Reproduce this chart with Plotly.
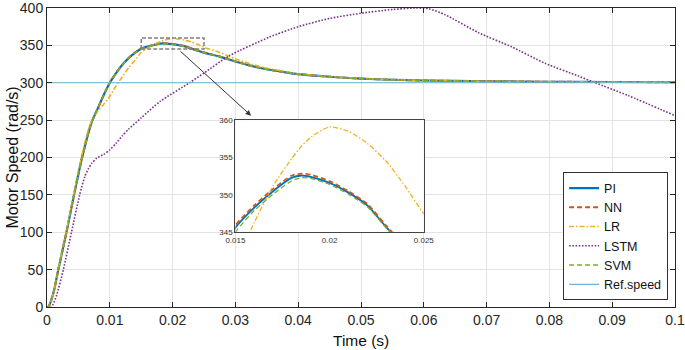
import plotly.graph_objects as go

# ---------------- data ----------------
time_s = [0, 0.0002, 0.001, 0.0018, 0.0025, 0.0031, 0.0037, 0.0043, 0.005, 0.0055,
          0.006, 0.0065, 0.0071, 0.0075, 0.008, 0.009, 0.010, 0.011, 0.012, 0.013,
          0.014, 0.015, 0.016, 0.017, 0.018, 0.0185, 0.019, 0.020, 0.021, 0.022,
          0.023, 0.024, 0.025, 0.0275, 0.030, 0.0325, 0.035, 0.0375, 0.040, 0.045,
          0.050, 0.055, 0.060, 0.070, 0.080, 0.090, 0.100]

pi_speed = [0, 0, 18, 50, 77, 100, 125, 150, 178, 197,
            214, 230, 247, 255, 264, 283, 300, 313, 324, 333,
            340, 345.6, 348.3, 350.5, 352.3, 352.6, 352.4, 351.6, 350.3, 348.6,
            345.7, 343.0, 340.3, 335.0, 328.5, 322.5, 318.0, 314.5, 311.5, 308.0,
            305.5, 304.0, 303.0, 302.0, 301.3, 301.0, 300.7]

nn_speed = [0, 0, 18, 50, 77, 100, 125, 150, 178, 197,
            214, 230, 247, 255, 264, 283, 300, 313, 324, 333,
            340, 345.9, 348.6, 350.8, 352.6, 352.85, 352.7, 351.85, 350.5, 348.8,
            345.9, 343.1, 340.4, 335.1, 328.6, 322.6, 318.0, 314.5, 311.5, 308.0,
            305.5, 304.0, 303.0, 302.0, 301.3, 301.0, 300.7]

lr_speed = [0, 0, 18, 51, 79, 102, 128, 153, 182, 201,
            219, 235, 249, 255, 261, 271, 282, 296, 308, 320,
            330, 340.5, 346.3, 351.2, 354.9, 356.5, 357.7, 359.1, 358.5, 356.9,
            354.5, 351.2, 347.5, 340.5, 332.0, 325.0, 319.5, 315.5, 312.0, 308.3,
            305.7, 304.1, 303.1, 302.0, 301.4, 301.0, 300.8]

svm_speed = [0, 0, 18, 50, 77, 100, 125, 150, 178, 197,
             214, 230, 247, 255, 264, 283, 300, 313, 324, 333,
             339.8, 345.0, 347.9, 350.1, 351.9, 352.3, 352.2, 351.4, 350.1, 348.4,
             345.6, 342.9, 340.2, 335.0, 328.5, 322.5, 318.0, 314.5, 311.5, 308.0,
             305.5, 304.0, 303.0, 302.0, 301.3, 301.0, 300.7]

lstm_time_s = [0, 0.0007, 0.0015, 0.0026, 0.0039, 0.0052, 0.006, 0.0066, 0.0071, 0.0079,
               0.009, 0.010, 0.011, 0.012, 0.013, 0.015, 0.018, 0.0227, 0.025, 0.029,
               0.0354, 0.040, 0.045, 0.050, 0.055, 0.0587, 0.0608, 0.0634, 0.0687, 0.074,
               0.0793, 0.0846, 0.0873, 0.0925, 0.100]
lstm_speed = [0, 0, 15, 50, 100, 150, 174, 185, 192, 199,
              204, 210, 219, 229, 238, 253, 275, 300, 313, 336,
              361, 375, 386, 393, 398, 400, 399, 391, 367, 348,
              326, 309, 300, 283, 256]

ref_time_s = [0, 0.1]
ref_speed = [300, 300]

x_ticks = [0, 0.01, 0.02, 0.03, 0.04, 0.05, 0.06, 0.07, 0.08, 0.09, 0.1]
x_tick_labels = ["0", "0.01", "0.02", "0.03", "0.04", "0.05", "0.06", "0.07", "0.08", "0.09", "0.1"]
y_ticks = [0, 50, 100, 150, 200, 250, 300, 350, 400]
inset_x_ticks = [0.015, 0.02, 0.025]
inset_x_labels = ["0.015", "0.02", "0.025"]
inset_y_ticks = [345, 350, 355, 360]

x_title = "Time (s)"
y_title = "Motor Speed (rad/s)"

# ---------------- styling ----------------
FONT = "Liberation Sans, Arial, sans-serif"
AX = "#262626"
GRID = "#e3e3e3"

series = [
    ("PI", time_s, pi_speed, dict(color="#0072BD", width=2.2, dash="solid")),
    ("NN", time_s, nn_speed, dict(color="#D95319", width=2, dash="5px,3px")),
    ("LR", time_s, lr_speed, dict(color="#EDB120", width=1.6, dash="5px,2px,1.5px,2px")),
    ("LSTM", lstm_time_s, lstm_speed, dict(color="#7E2F8E", width=1.6, dash="1.6px,1.6px")),
    ("SVM", time_s, svm_speed, dict(color="#77AC30", width=1.6, dash="5px,3px")),
    ("Ref.speed", ref_time_s, ref_speed, dict(color="#6cb4d8", width=1.2, dash="solid")),
]

fig = go.Figure()
for name, xs, ys, ln in series:
    fig.add_trace(go.Scatter(x=xs, y=ys, name=name, mode="lines",
                             line=dict(shape="spline", smoothing=0.6, **ln),
                             xaxis="x", yaxis="y"))
# inset copies
for name, xs, ys, ln in series:
    fig.add_trace(go.Scatter(x=xs, y=ys, name=name, mode="lines", showlegend=False,
                             line=dict(shape="spline", smoothing=0.6,
                                       **{**ln, "width": max(ln["width"] - 0.3, 1.2)}),
                             xaxis="x2", yaxis="y2"))

fig.update_layout(
    width=685, height=350,
    margin=dict(l=47, r=10, t=8, b=43, autoexpand=False),
    paper_bgcolor="white", plot_bgcolor="white",
    font=dict(family=FONT, color=AX, size=14),
    showlegend=True,
    legend=dict(x=0.989, y=0.022, xanchor="right", yanchor="bottom",
                bgcolor="white", bordercolor="#333333", borderwidth=1,
                font=dict(size=12.5, color="#111111"),
                tracegroupgap=0, itemwidth=30),
    xaxis=dict(domain=[0, 1], range=[0, 0.1], tickvals=x_ticks, ticktext=x_tick_labels,
               showgrid=True, gridcolor=GRID, gridwidth=1, zeroline=False,
               showline=True, linecolor=AX, linewidth=1, mirror="ticks",
               ticks="inside", ticklen=5, tickcolor=AX, automargin=False,
               ticklabeloverflow="allow",
               tickfont=dict(size=14, color=AX)),
    yaxis=dict(domain=[0, 1], range=[0, 400], tickvals=y_ticks,
               showgrid=True, gridcolor=GRID, gridwidth=1, zeroline=False,
               showline=True, linecolor=AX, linewidth=1, mirror="ticks",
               ticks="inside", ticklen=5, tickcolor=AX, automargin=False,
               ticklabeloverflow="allow",
               tickfont=dict(size=14, color=AX)),
    xaxis2=dict(domain=[0.3, 0.6], range=[0.015, 0.025], anchor="y2",
                tickvals=inset_x_ticks, ticktext=inset_x_labels, automargin=False,
                showgrid=False, zeroline=False, showline=True, linecolor="#444444",
                linewidth=1.2, mirror=True, ticks="", ticklabeloverflow="allow",
                tickfont=dict(size=8, color="#333333")),
    yaxis2=dict(domain=[0.25, 0.625], range=[345, 360], anchor="x2",
                tickvals=inset_y_ticks, automargin=False,
                showgrid=False, zeroline=False, showline=True, linecolor="#444444",
                linewidth=1.2, mirror=True, ticks="", ticklabeloverflow="allow",
                tickfont=dict(size=8, color="#333333")),
)

# axis titles
fig.add_annotation(xref="paper", yref="paper", x=0.5, y=-0.111, yanchor="middle",
                   text=x_title, showarrow=False, font=dict(size=15.5, color="#111111"))
fig.add_annotation(xref="paper", yref="paper", x=-0.0556, y=0.5, xanchor="center",
                   yanchor="middle", text=y_title, textangle=-90, showarrow=False,
                   font=dict(size=16, color="#111111"))

# dashed zoom box on the main plot
fig.add_shape(type="rect", xref="x", yref="y", x0=0.015, x1=0.025, y0=345, y1=360,
              line=dict(color="#7f7f7f", width=1.5, dash="4px,2px"))
# arrow from the zoom box to the inset
fig.add_annotation(xref="x", yref="y", axref="x", ayref="y",
                   x=0.0325, y=256, ax=0.021, ay=344, text="", showarrow=True,
                   arrowhead=2, arrowsize=1.1, arrowwidth=1, arrowcolor="#333333")

fig.write_html("out.html", config={"displayModeBar": False},
               post_script="document.body.style.margin='0px';")
